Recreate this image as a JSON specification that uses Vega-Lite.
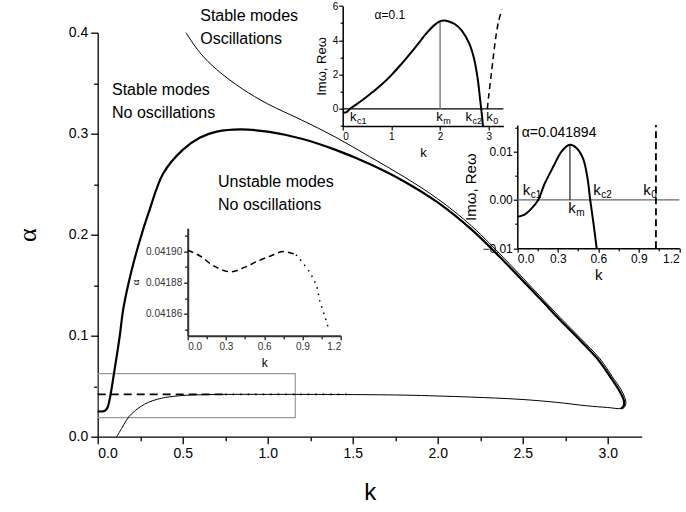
{
  "$schema": "https://vega.github.io/schema/vega-lite/v6.json",
  "width": 544,
  "height": 404,
  "autosize": {"type": "none"},
  "padding": {"left": 97.7, "top": 32.7, "right": 44.3, "bottom": 75.3},
  "background": "white",
  "config": {
    "view": {"stroke": null},
    "font": "Liberation Sans",
    "axis": {"grid": false, "domainColor": "black", "tickColor": "black", "labelColor": "black", "titleColor": "black", "titleFontWeight": "normal", "labelFont": "Liberation Sans", "titleFont": "Liberation Sans"},
    "text": {"font": "Liberation Sans", "color": "black"}
  },
  "datasets": {
    "main": [
      {"p": "thick", "i": 0, "k": 0, "v": 0.025},
      {"p": "thick", "i": 1, "k": 0.03, "v": 0.0251},
      {"p": "thick", "i": 2, "k": 0.045, "v": 0.026},
      {"p": "thick", "i": 3, "k": 0.055, "v": 0.028},
      {"p": "thick", "i": 4, "k": 0.062, "v": 0.031},
      {"p": "thick", "i": 5, "k": 0.068, "v": 0.035},
      {"p": "thick", "i": 6, "k": 0.076, "v": 0.042},
      {"p": "thick", "i": 7, "k": 0.086, "v": 0.052},
      {"p": "thick", "i": 8, "k": 0.096, "v": 0.063},
      {"p": "thick", "i": 9, "k": 0.113, "v": 0.081},
      {"p": "thick", "i": 10, "k": 0.13, "v": 0.1},
      {"p": "thick", "i": 11, "k": 0.151, "v": 0.127},
      {"p": "thick", "i": 12, "k": 0.2, "v": 0.165},
      {"p": "thick", "i": 13, "k": 0.249, "v": 0.195},
      {"p": "thick", "i": 14, "k": 0.3, "v": 0.222},
      {"p": "thick", "i": 15, "k": 0.386, "v": 0.2608},
      {"p": "thick", "i": 16, "k": 0.5, "v": 0.284},
      {"p": "thick", "i": 17, "k": 0.6, "v": 0.296},
      {"p": "thick", "i": 18, "k": 0.7, "v": 0.302},
      {"p": "thick", "i": 19, "k": 0.838, "v": 0.3043},
      {"p": "thick", "i": 20, "k": 1.0, "v": 0.302},
      {"p": "thick", "i": 21, "k": 1.2, "v": 0.295},
      {"p": "thick", "i": 22, "k": 1.4, "v": 0.284},
      {"p": "thick", "i": 23, "k": 1.6, "v": 0.27},
      {"p": "thick", "i": 24, "k": 1.8, "v": 0.253},
      {"p": "thick", "i": 25, "k": 2.0, "v": 0.232},
      {"p": "thick", "i": 26, "k": 2.2, "v": 0.205},
      {"p": "thick", "i": 27, "k": 2.4, "v": 0.172},
      {"p": "thick", "i": 28, "k": 2.6, "v": 0.137},
      {"p": "thick", "i": 29, "k": 2.72, "v": 0.1155},
      {"p": "thick", "i": 30, "k": 2.84, "v": 0.095},
      {"p": "thick", "i": 31, "k": 2.95, "v": 0.075},
      {"p": "thick", "i": 32, "k": 3.02, "v": 0.058},
      {"p": "thick", "i": 33, "k": 3.07, "v": 0.045},
      {"p": "thick", "i": 34, "k": 3.093, "v": 0.037},
      {"p": "thick", "i": 35, "k": 3.096, "v": 0.032},
      {"p": "thick", "i": 36, "k": 3.088, "v": 0.029},
      {"p": "thick", "i": 37, "k": 3.078, "v": 0.028},
      {"p": "thin", "i": 0, "k": 0.112, "v": 0},
      {"p": "thin", "i": 1, "k": 0.14, "v": 0.008},
      {"p": "thin", "i": 2, "k": 0.17, "v": 0.0165},
      {"p": "thin", "i": 3, "k": 0.2, "v": 0.0228},
      {"p": "thin", "i": 4, "k": 0.25, "v": 0.0295},
      {"p": "thin", "i": 5, "k": 0.3, "v": 0.0342},
      {"p": "thin", "i": 6, "k": 0.35, "v": 0.037},
      {"p": "thin", "i": 7, "k": 0.4, "v": 0.0389},
      {"p": "thin", "i": 8, "k": 0.5, "v": 0.0408},
      {"p": "thin", "i": 9, "k": 0.6, "v": 0.0415},
      {"p": "thin", "i": 10, "k": 0.8, "v": 0.0419},
      {"p": "thin", "i": 11, "k": 1.0, "v": 0.0419},
      {"p": "thin", "i": 12, "k": 1.4, "v": 0.0418},
      {"p": "thin", "i": 13, "k": 1.8, "v": 0.0412},
      {"p": "thin", "i": 14, "k": 2.0, "v": 0.0403},
      {"p": "thin", "i": 15, "k": 2.2, "v": 0.0392},
      {"p": "thin", "i": 16, "k": 2.484, "v": 0.037},
      {"p": "thin", "i": 17, "k": 2.7, "v": 0.034},
      {"p": "thin", "i": 18, "k": 2.876, "v": 0.0306},
      {"p": "thin", "i": 19, "k": 3.0, "v": 0.0289},
      {"p": "thin", "i": 20, "k": 3.08, "v": 0.0279},
      {"p": "thin", "i": 21, "k": 3.1, "v": 0.0295},
      {"p": "thin", "i": 22, "k": 3.107, "v": 0.034},
      {"p": "thin", "i": 23, "k": 3.1, "v": 0.039},
      {"p": "thin", "i": 24, "k": 3.077, "v": 0.047},
      {"p": "thin", "i": 25, "k": 3.025, "v": 0.06},
      {"p": "thin", "i": 26, "k": 2.955, "v": 0.077},
      {"p": "thin", "i": 27, "k": 2.84, "v": 0.0975},
      {"p": "thin", "i": 28, "k": 2.72, "v": 0.118},
      {"p": "thin", "i": 29, "k": 2.6, "v": 0.1395},
      {"p": "thin", "i": 30, "k": 2.4, "v": 0.175},
      {"p": "thin", "i": 31, "k": 2.2, "v": 0.2085},
      {"p": "thin", "i": 32, "k": 2.0, "v": 0.2355},
      {"p": "thin", "i": 33, "k": 1.8, "v": 0.2575},
      {"p": "thin", "i": 34, "k": 1.6, "v": 0.2772},
      {"p": "thin", "i": 35, "k": 1.4, "v": 0.2965},
      {"p": "thin", "i": 36, "k": 1.2, "v": 0.3135},
      {"p": "thin", "i": 37, "k": 1.0, "v": 0.3295},
      {"p": "thin", "i": 38, "k": 0.85, "v": 0.3445},
      {"p": "thin", "i": 39, "k": 0.7, "v": 0.3635},
      {"p": "thin", "i": 40, "k": 0.6, "v": 0.3805},
      {"p": "thin", "i": 41, "k": 0.519, "v": 0.4},
      {"p": "dash", "i": 0, "k": 0, "v": 0.0419},
      {"p": "dash", "i": 1, "k": 0.75, "v": 0.0419},
      {"p": "dot", "i": 0, "k": 0.75, "v": 0.0419},
      {"p": "dot", "i": 1, "k": 1.5, "v": 0.0419}
    ],
    "mainRect": [{"k": 0, "k2": 1.162, "v": 0.0188, "v2": 0.0624}],
    "mainText": [
      {"k": 0.603, "v": 0.4165, "t": "Stable modes"},
      {"k": 0.603, "v": 0.3938, "t": "Oscillations"},
      {"k": 0.084, "v": 0.3432, "t": "Stable modes"},
      {"k": 0.084, "v": 0.3204, "t": "No oscillations"},
      {"k": 0.708, "v": 0.2521, "t": "Unstable modes"},
      {"k": 0.708, "v": 0.2294, "t": "No oscillations"}
    ],
    "insetA": [
      {"p": "dash", "i": 0, "k": 0, "v": 0.041901},
      {"p": "dash", "i": 1, "k": 0.1, "v": 0.041897},
      {"p": "dash", "i": 2, "k": 0.2, "v": 0.041891},
      {"p": "dash", "i": 3, "k": 0.332, "v": 0.041887},
      {"p": "dash", "i": 4, "k": 0.45, "v": 0.04189},
      {"p": "dash", "i": 5, "k": 0.55, "v": 0.041894},
      {"p": "dash", "i": 6, "k": 0.645, "v": 0.041897},
      {"p": "dash", "i": 7, "k": 0.75, "v": 0.0419},
      {"p": "dash", "i": 8, "k": 0.85, "v": 0.041898},
      {"p": "dot", "i": 0, "k": 0.85, "v": 0.041898},
      {"p": "dot", "i": 1, "k": 0.954, "v": 0.041887},
      {"p": "dot", "i": 2, "k": 1.01, "v": 0.041878},
      {"p": "dot", "i": 3, "k": 1.037, "v": 0.041868},
      {"p": "dot", "i": 4, "k": 1.077, "v": 0.041858},
      {"p": "dot", "i": 5, "k": 1.11, "v": 0.041849}
    ],
    "insetB": [
      {"p": "im", "i": 0, "k": 0, "v": -0.18},
      {"p": "im", "i": 1, "k": 0.05, "v": -0.22},
      {"p": "im", "i": 2, "k": 0.1, "v": -0.15},
      {"p": "im", "i": 3, "k": 0.15, "v": 0},
      {"p": "im", "i": 4, "k": 0.25, "v": 0.2},
      {"p": "im", "i": 5, "k": 0.4, "v": 0.5},
      {"p": "im", "i": 6, "k": 0.6, "v": 0.95},
      {"p": "im", "i": 7, "k": 0.8, "v": 1.42},
      {"p": "im", "i": 8, "k": 1.0, "v": 1.97},
      {"p": "im", "i": 9, "k": 1.2, "v": 2.6},
      {"p": "im", "i": 10, "k": 1.45, "v": 3.44},
      {"p": "im", "i": 11, "k": 1.6, "v": 3.98},
      {"p": "im", "i": 12, "k": 1.7, "v": 4.34},
      {"p": "im", "i": 13, "k": 1.8, "v": 4.66},
      {"p": "im", "i": 14, "k": 1.9, "v": 4.93},
      {"p": "im", "i": 15, "k": 2.0, "v": 5.11},
      {"p": "im", "i": 16, "k": 2.08, "v": 5.15},
      {"p": "im", "i": 17, "k": 2.18, "v": 5.1},
      {"p": "im", "i": 18, "k": 2.3, "v": 4.95},
      {"p": "im", "i": 19, "k": 2.45, "v": 4.55},
      {"p": "im", "i": 20, "k": 2.6, "v": 3.8},
      {"p": "im", "i": 21, "k": 2.7, "v": 2.9},
      {"p": "im", "i": 22, "k": 2.77, "v": 1.8},
      {"p": "im", "i": 23, "k": 2.82, "v": 0.6},
      {"p": "im", "i": 24, "k": 2.86, "v": -0.4},
      {"p": "im", "i": 25, "k": 2.88, "v": -1.0},
      {"p": "re", "i": 0, "k": 2.97, "v": 0},
      {"p": "re", "i": 1, "k": 3.0, "v": 0.8},
      {"p": "re", "i": 2, "k": 3.05, "v": 2.0},
      {"p": "re", "i": 3, "k": 3.1, "v": 3.2},
      {"p": "re", "i": 4, "k": 3.15, "v": 4.3},
      {"p": "re", "i": 5, "k": 3.2, "v": 5.1},
      {"p": "re", "i": 6, "k": 3.27, "v": 5.8},
      {"p": "zero", "i": 0, "k": 0, "v": 0},
      {"p": "zero", "i": 1, "k": 3.3, "v": 0},
      {"p": "km", "i": 0, "k": 2.0, "v": 0},
      {"p": "km", "i": 1, "k": 2.0, "v": 5.11}
    ],
    "insetBText": [
      {"k": 0.97, "v": 5.47, "t": "α=0.1"}
    ],
    "insetBK": [
      {"k": 0.15, "v": -0.45, "sub": "c1"},
      {"k": 1.92, "v": -0.45, "sub": "m"},
      {"k": 2.52, "v": -0.45, "sub": "c2"},
      {"k": 2.95, "v": -0.45, "sub": "0"}
    ],
    "insetC": [
      {"p": "im", "i": 0, "k": 0, "v": -0.0035},
      {"p": "im", "i": 1, "k": 0.05, "v": -0.0031},
      {"p": "im", "i": 2, "k": 0.094, "v": -0.0021},
      {"p": "im", "i": 3, "k": 0.155, "v": 0},
      {"p": "im", "i": 4, "k": 0.2, "v": 0.0032},
      {"p": "im", "i": 5, "k": 0.267, "v": 0.0069},
      {"p": "im", "i": 6, "k": 0.33, "v": 0.0101},
      {"p": "im", "i": 7, "k": 0.39, "v": 0.0114},
      {"p": "im", "i": 8, "k": 0.44, "v": 0.0107},
      {"p": "im", "i": 9, "k": 0.488, "v": 0.0085},
      {"p": "im", "i": 10, "k": 0.52, "v": 0.0045},
      {"p": "im", "i": 11, "k": 0.54, "v": 0},
      {"p": "im", "i": 12, "k": 0.565, "v": -0.005},
      {"p": "im", "i": 13, "k": 0.588, "v": -0.01},
      {"p": "zero", "i": 0, "k": 0, "v": 0},
      {"p": "zero", "i": 1, "k": 1.2, "v": 0},
      {"p": "km", "i": 0, "k": 0.39, "v": 0},
      {"p": "km", "i": 1, "k": 0.39, "v": 0.0114},
      {"p": "k0", "i": 0, "k": 1.027, "v": -0.01},
      {"p": "k0", "i": 1, "k": 1.027, "v": 0.0155}
    ],
    "insetCText": [
      {"k": 0.033, "v": 0.0138, "t": "α=0.041894"}
    ],
    "insetCK": [
      {"k": 0.04, "v": 0.0021, "sub": "c1"},
      {"k": 0.378, "v": -0.0017, "sub": "m"},
      {"k": 0.563, "v": 0.0021, "sub": "c2"},
      {"k": 0.933, "v": 0.0021, "sub": "0"}
    ]
  },
  "resolve": {
    "scale": {"x": "independent", "y": "independent"},
    "axis": {"x": "independent", "y": "independent"}
  },
  "layer": [
    {
      "encoding": {
        "x": {"field": "k", "type": "quantitative",
          "scale": {"domain": [0, 3.2], "range": [0, 544], "nice": false, "zero": false},
          "axis": {"orient": "bottom", "offset": 0, "title": "k", "titleFontSize": 24, "titlePadding": 20,
            "values": [0, 0.25, 0.5, 0.75, 1, 1.25, 1.5, 1.75, 2, 2.25, 2.5, 2.75, 3],
            "format": ".1f", "labelExpr": "abs(datum.value*2-round(datum.value*2))<0.000001 ? datum.label : ''",
            "tickSize": {"condition": {"test": "abs(datum.value*2-round(datum.value*2))<0.000001", "value": 7}, "value": 4},
            "labelFontSize": 14, "labelPadding": 3, "domainWidth": 1.3, "tickWidth": 1.3}},
        "y": {"field": "v", "type": "quantitative",
          "scale": {"domain": [0, 0.4], "range": [404, 0], "nice": false, "zero": false},
          "axis": {"orient": "left", "offset": 0, "title": "α", "titleFont": "Liberation Serif", "titleFontSize": 26, "titlePadding": 28,
            "values": [0, 0.05, 0.1, 0.15, 0.2, 0.25, 0.3, 0.35, 0.4],
            "format": ".1f", "labelExpr": "abs(datum.value*10-round(datum.value*10))<0.000001 ? datum.label : ''",
            "tickSize": {"condition": {"test": "abs(datum.value*10-round(datum.value*10))<0.000001", "value": 7}, "value": 4},
            "labelFontSize": 14, "labelPadding": 3, "domainWidth": 1.3, "tickWidth": 1.3}}
      },
      "layer": [
        {"data": {"name": "mainRect"}, "mark": {"type": "rect", "fill": null, "stroke": "#999999", "strokeWidth": 1.2},
          "encoding": {"x2": {"field": "k2"}, "y2": {"field": "v2"}}},
        {"data": {"name": "main"}, "transform": [{"filter": "datum.p == 'thick'"}],
          "mark": {"type": "line", "color": "black", "strokeWidth": 2.2, "interpolate": "catmull-rom"}, "encoding": {"order": {"field": "i", "type": "quantitative"}}},
        {"data": {"name": "main"}, "transform": [{"filter": "datum.p == 'thin'"}],
          "mark": {"type": "line", "color": "black", "strokeWidth": 1, "interpolate": "catmull-rom"}, "encoding": {"order": {"field": "i", "type": "quantitative"}}},
        {"data": {"name": "main"}, "transform": [{"filter": "datum.p == 'dash'"}],
          "mark": {"type": "line", "color": "black", "strokeWidth": 1.6, "strokeDash": [8, 5]}, "encoding": {"order": {"field": "i", "type": "quantitative"}}},
        {"data": {"name": "main"}, "transform": [{"filter": "datum.p == 'dot'"}],
          "mark": {"type": "line", "color": "black", "strokeWidth": 1.6, "strokeDash": [1.5, 6]}, "encoding": {"order": {"field": "i", "type": "quantitative"}}},
        {"data": {"name": "mainText"}, "mark": {"type": "text", "fontSize": 16, "align": "left", "baseline": "middle"},
          "encoding": {"text": {"field": "t"}}}
      ]
    },
    {
      "data": {"name": "insetA"},
      "encoding": {
        "x": {"field": "k", "type": "quantitative",
          "scale": {"domain": [0, 1.2], "range": [90, 243], "nice": false, "zero": false},
          "axis": {"orient": "bottom", "offset": -101, "title": "k", "titleFontSize": 12, "titlePadding": 6,
            "values": [0, 0.15, 0.3, 0.45, 0.6, 0.75, 0.9, 1.05, 1.2],
            "format": ".1f", "labelExpr": "abs(datum.value/0.3-round(datum.value/0.3))<0.0001 ? datum.label : ''",
            "tickSize": {"condition": {"test": "abs(datum.value/0.3-round(datum.value/0.3))<0.0001", "value": 4}, "value": 3},
            "labelFontSize": 10, "labelPadding": 2, "domainWidth": 2, "tickWidth": 1.5, "domainColor": "#333333", "tickColor": "#333333", "labelColor": "#333333"}},
        "y": {"field": "v", "type": "quantitative",
          "scale": {"domain": [0.041846, 0.041915], "range": [303, 195.5], "nice": false, "zero": false},
          "axis": {"orient": "left", "offset": -90, "title": "α", "titleFont": "Liberation Serif", "titleFontSize": 11, "titlePadding": 5,
            "values": [0.04185, 0.04186, 0.04187, 0.04188, 0.04189, 0.0419, 0.04191],
            "format": ".5f", "labelExpr": "abs(datum.value*50000-round(datum.value*50000))<0.01 ? datum.label : ''",
            "tickSize": {"condition": {"test": "abs(datum.value*50000-round(datum.value*50000))<0.01", "value": 4}, "value": 3},
            "labelFontSize": 10, "labelPadding": 2, "domainWidth": 2, "tickWidth": 1.5, "domainColor": "#333333", "tickColor": "#333333", "labelColor": "#333333"}},
        "order": {"field": "i", "type": "quantitative"}
      },
      "layer": [
        {"transform": [{"filter": "datum.p == 'dash'"}], "mark": {"type": "line", "color": "black", "strokeWidth": 1.5, "strokeDash": [6, 4], "interpolate": "catmull-rom"}},
        {"transform": [{"filter": "datum.p == 'dot'"}], "mark": {"type": "line", "color": "black", "strokeWidth": 1.5, "strokeDash": [1.5, 5], "interpolate": "catmull-rom"}}
      ]
    },
    {
      "encoding": {
        "x": {"field": "k", "type": "quantitative",
          "scale": {"domain": [0, 3.3], "range": [245, 405.7], "nice": false, "zero": false},
          "axis": {"orient": "bottom", "offset": -310.7, "title": "k", "titleFontSize": 13, "titlePadding": 5,
            "values": [0, 0.5, 1, 1.5, 2, 2.5, 3],
            "format": "d", "labelExpr": "datum.value % 1 == 0 ? datum.label : ''",
            "tickSize": {"condition": {"test": "datum.value % 1 == 0", "value": 4}, "value": 2.5},
            "labelFontSize": 10, "labelPadding": 1, "domainWidth": 1.5, "tickWidth": 1.2}},
        "y": {"field": "v", "type": "quantitative",
          "scale": {"domain": [-1, 6], "range": [93.3, -26.7], "nice": false, "zero": false},
          "axis": {"orient": "left", "offset": -245, "title": "Imω, Reω", "titleFontSize": 13, "titlePadding": 4,
            "values": [-1, 0, 1, 2, 3, 4, 5, 6],
            "format": "d", "labelExpr": "datum.value % 2 == 0 ? datum.label : ''",
            "tickSize": {"condition": {"test": "datum.value % 2 == 0", "value": 4}, "value": 2.5},
            "labelFontSize": 10, "labelPadding": 1, "domainWidth": 1.5, "tickWidth": 1.2}}
      },
      "layer": [
        {"data": {"name": "insetB"}, "transform": [{"filter": "datum.p == 'zero'"}], "mark": {"type": "line", "color": "black", "strokeWidth": 1.2}, "encoding": {"order": {"field": "i", "type": "quantitative"}}},
        {"data": {"name": "insetB"}, "transform": [{"filter": "datum.p == 'km'"}], "mark": {"type": "line", "color": "#808080", "strokeWidth": 1.5}, "encoding": {"order": {"field": "i", "type": "quantitative"}}},
        {"data": {"name": "insetB"}, "transform": [{"filter": "datum.p == 'im'"}], "mark": {"type": "line", "color": "black", "strokeWidth": 2, "interpolate": "catmull-rom"}, "encoding": {"order": {"field": "i", "type": "quantitative"}}},
        {"data": {"name": "insetB"}, "transform": [{"filter": "datum.p == 're'"}], "mark": {"type": "line", "color": "black", "strokeWidth": 1.5, "strokeDash": [6, 4], "interpolate": "catmull-rom"}, "encoding": {"order": {"field": "i", "type": "quantitative"}}},
        {"data": {"name": "insetBText"}, "mark": {"type": "text", "fontSize": 12, "align": "center", "baseline": "middle"}, "encoding": {"text": {"field": "t"}}},
        {"data": {"name": "insetBK"}, "mark": {"type": "text", "fontSize": 13, "align": "left", "baseline": "middle"}, "encoding": {"text": {"value": "k"}}},
        {"data": {"name": "insetBK"}, "mark": {"type": "text", "fontSize": 9, "align": "left", "baseline": "middle", "dx": 7, "dy": 4}, "encoding": {"text": {"field": "sub"}}}
      ]
    },
    {
      "encoding": {
        "x": {"field": "k", "type": "quantitative",
          "scale": {"domain": [0, 1.2], "range": [419.6, 581.6], "nice": false, "zero": false},
          "axis": {"orient": "bottom", "offset": -188.4, "title": "k", "titleFontSize": 15, "titlePadding": 3,
            "values": [0, 0.15, 0.3, 0.45, 0.6, 0.75, 0.9, 1.05, 1.2],
            "format": ".1f", "labelExpr": "abs(datum.value/0.3-round(datum.value/0.3))<0.0001 ? datum.label : ''",
            "tickSize": {"condition": {"test": "abs(datum.value/0.3-round(datum.value/0.3))<0.0001", "value": 4}, "value": 2.5},
            "labelFontSize": 12, "labelPadding": 1, "domainWidth": 1.5, "tickWidth": 1.2}},
        "y": {"field": "v", "type": "quantitative",
          "scale": {"domain": [-0.01, 0.0155], "range": [215.6, 92.3], "nice": false, "zero": false},
          "axis": {"orient": "left", "offset": -419.6, "title": "Imω, Reω", "titleFontSize": 15, "titlePadding": 3,
            "values": [-0.01, -0.005, 0, 0.005, 0.01, 0.015],
            "format": ".2f", "labelExpr": "abs(datum.value*100-round(datum.value*100))<0.0001 ? datum.label : ''",
            "tickSize": {"condition": {"test": "abs(datum.value*100-round(datum.value*100))<0.0001", "value": 4}, "value": 2.5},
            "labelFontSize": 12, "labelPadding": 1, "domainWidth": 1.5, "tickWidth": 1.2}}
      },
      "layer": [
        {"data": {"name": "insetC"}, "transform": [{"filter": "datum.p == 'zero'"}], "mark": {"type": "line", "color": "#666666", "strokeWidth": 1.3}, "encoding": {"order": {"field": "i", "type": "quantitative"}}},
        {"data": {"name": "insetC"}, "transform": [{"filter": "datum.p == 'km'"}], "mark": {"type": "line", "color": "#333333", "strokeWidth": 1.3}, "encoding": {"order": {"field": "i", "type": "quantitative"}}},
        {"data": {"name": "insetC"}, "transform": [{"filter": "datum.p == 'im'"}], "mark": {"type": "line", "color": "black", "strokeWidth": 2, "interpolate": "catmull-rom"}, "encoding": {"order": {"field": "i", "type": "quantitative"}}},
        {"data": {"name": "insetC"}, "transform": [{"filter": "datum.p == 'k0'"}], "mark": {"type": "line", "color": "black", "strokeWidth": 1.8, "strokeDash": [7, 4]}, "encoding": {"order": {"field": "i", "type": "quantitative"}}},
        {"data": {"name": "insetCText"}, "mark": {"type": "text", "fontSize": 14, "align": "left", "baseline": "middle"}, "encoding": {"text": {"field": "t"}}},
        {"data": {"name": "insetCK"}, "mark": {"type": "text", "fontSize": 15, "align": "left", "baseline": "middle"}, "encoding": {"text": {"value": "k"}}},
        {"data": {"name": "insetCK"}, "mark": {"type": "text", "fontSize": 10, "align": "left", "baseline": "middle", "dx": 8, "dy": 5}, "encoding": {"text": {"field": "sub"}}}
      ]
    }
  ]
}
